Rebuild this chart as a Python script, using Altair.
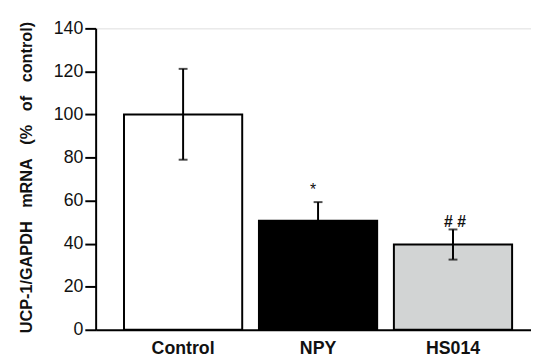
import altair as alt
import pandas as pd

categories = ["Control", "NPY", "HS014"]
means = [100.0, 50.6, 39.6]
upper = [121.2, 59.3, 46.6]
lower = [79.0, 41.9, 32.6]
fills = ["#ffffff", "#000000", "#d2d4d4"]
marks = ["", "*", "#\u00a0#"]

df = pd.DataFrame({
    "group": categories,
    "mean": means,
    "upper": upper,
    "lower": lower,
    "fill": fills,
    "mark": marks,
})

FONT = "Liberation Sans"
INK = "#111111"
LINE = "#000000"
SP = "\u00a0\u00a0\u00a0"

x = alt.X(
    "group:N",
    sort=categories,
    title=None,
    scale=alt.Scale(paddingInner=0.124, paddingOuter=0.175, align=0.6),
    axis=alt.Axis(
        labelAngle=0, ticks=False, labelPadding=10, labelFont=FONT,
        labelFontSize=18, labelFontWeight="bold", labelColor=INK,
        domainColor=LINE, domainWidth=2,
    ),
)

y_axis = alt.Axis(
    values=[0, 20, 40, 60, 80, 100, 120, 140],
    grid=False, tickSize=11, tickWidth=2, tickColor=LINE,
    domainColor=LINE, domainWidth=2, labelPadding=2,
    labelFont=FONT, labelFontSize=18, labelColor=INK,
    title="UCP-1/GAPDH" + SP + "mRNA" + SP + "(%" + SP + "of" + SP + "control)",
    titleFont=FONT, titleFontSize=16.5, titleFontWeight="bold", titleColor=INK,
    titleAngle=270, titleX=-65, titleY=151, titleAlign="center",
    titleBaseline="alphabetic",
)

base = alt.Chart(df)

bars = base.mark_bar(stroke=LINE, strokeWidth=2).encode(
    x=x,
    y=alt.Y("mean:Q", scale=alt.Scale(domain=[0, 140], nice=False), axis=y_axis),
    fill=alt.Fill("fill:N", scale=None),
)

err = base.mark_rule(color=LINE, strokeWidth=2).encode(
    x=alt.X("group:N", sort=categories), y="lower:Q", y2="upper:Q"
)
cap_hi = base.mark_tick(color=LINE, thickness=2, size=9).encode(
    x=alt.X("group:N", sort=categories), y="upper:Q"
)
cap_lo = base.mark_tick(color=LINE, thickness=2, size=9).encode(
    x=alt.X("group:N", sort=categories), y="lower:Q"
)

star = base.transform_filter(alt.datum.group == "NPY").mark_text(
    font=FONT, fontSize=16, color=INK, baseline="alphabetic", dy=-7, dx=-5
).encode(x=alt.X("group:N", sort=categories), y="upper:Q", text="mark:N")

hash_ = base.transform_filter(alt.datum.group == "HS014").mark_text(
    font=FONT, fontSize=16, fontWeight="bold", color=INK, baseline="alphabetic", dy=-2, dx=2
).encode(x=alt.X("group:N", sort=categories), y="upper:Q", text="mark:N")

chart = alt.layer(bars, err, cap_hi, cap_lo, star, hash_).properties(
    width=442, height=306,
    autosize=alt.AutoSizeParams(type="none"),
    padding={"left": 89, "top": 18, "right": 0, "bottom": 28},
).configure_view(stroke=None).configure(background="white")

chart.save("out.html", embed_options={"renderer": "svg", "actions": False})
